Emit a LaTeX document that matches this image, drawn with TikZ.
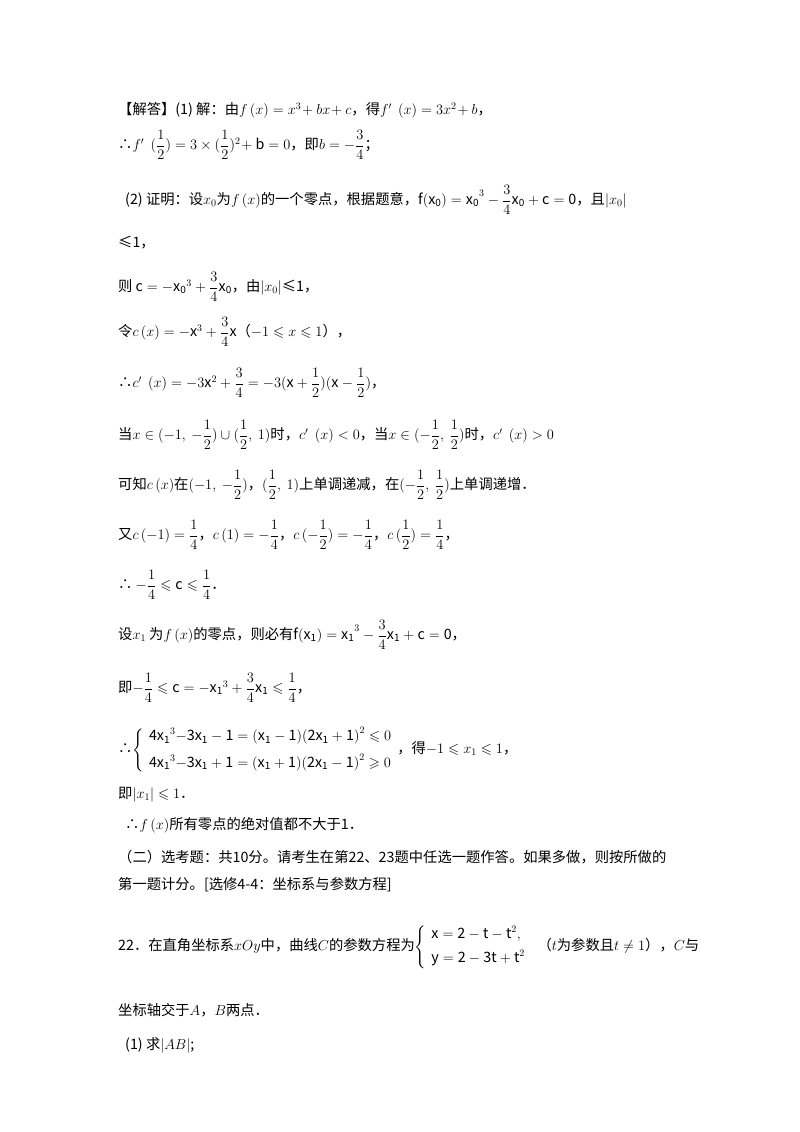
\documentclass[tikz,border=0pt]{standalone}
\usepackage{amsmath,amssymb}
\usepackage{fontspec}
\setmainfont{Noto Sans CJK SC}
\begin{document}
\begin{tikzpicture}[x=1pt,y=-1pt,
 ln/.style={anchor=west,inner sep=0pt,font=\fontsize{14.3}{17}\selectfont}]
\useasboundingbox[fill=white] (0,0) rectangle (800,1132);
\node[ln] (l1) at (118,110) {【解答】(1) 解：由$f\,(x)=x^3\!+bx\!+c$，得$f'\ \ (x)=3x^2\!+b$，};
\node[ln] (l2) at (118,145) {∴$f'\ \ (\dfrac12)=3\times(\dfrac12)^2\!+\mathrm{b}=0$，即$b=-\dfrac34$；};
\node[ln] (l3) at (125,200) {(2) 证明：设$x_0$为$f\,(x)$的一个零点，根据题意，$\mathrm{f(x_0)=x_0}^3-\dfrac34\mathrm{x_0+c=0}$，且$|x_0|$};
\node[ln] (l4) at (118,243) {≤1，};
\node[ln] (l5) at (118,287) {则 $\mathrm{c=-x_0}^3+\dfrac34\mathrm{x_0}$，由$|x_0|$≤1，};
\node[ln] (l6) at (118,332) {令$c\,(x)=-\mathrm{x}^3+\dfrac34\mathrm{x}$（$-1\leqslant x\leqslant1$），};
\node[ln] (l7) at (118,383) {∴$c'\ \ (x)=-3\mathrm{x}^2+\dfrac34=-3(\mathrm{x}+\dfrac12)(\mathrm{x}-\dfrac12)$，};
\node[ln] (l8) at (118,435) {当$x\in(-1,\ -\dfrac12)\cup(\dfrac12,\ 1)$时，$c'\ \ (x)<0$，当$x\in(-\dfrac12,\ \dfrac12)$时，$c'\ \ (x)>0$};
\node[ln] (l9) at (118,485) {可知$c\,(x)$在$(-1,\ -\dfrac12)$，$(\dfrac12,\ 1)$上单调递减，在$(-\dfrac12,\ \dfrac12)$上单调递增．};
\node[ln] (l10) at (118,535) {又$c\,(-1)=\dfrac14$，$c\,(1)=-\dfrac14$，$c\,(-\dfrac12)=-\dfrac14$，$c\,(\dfrac12)=\dfrac14$，};
\node[ln] (l11) at (118,585) {∴ $-\dfrac14\leqslant\mathrm{c}\leqslant\dfrac14$．};
\node[ln] (l12) at (118,635) {设$x_1$ 为$f\,(x)$的零点，则必有$\mathrm{f(x_1)=x_1}^3-\dfrac34\mathrm{x_1+c=0}$，};
\node[ln] (l13) at (118,688) {即$-\dfrac14\leqslant\mathrm{c=-x_1}^3+\dfrac34\mathrm{x_1}\leqslant\dfrac14$，};
\node[ln] (l14) at (118,750) {∴$\left\{\begin{array}{l}\mathrm{4x_1}^3\mathrm{-3x_1-1=(x_1-1)(2x_1+1)}^2\leqslant0\\[8pt] \mathrm{4x_1}^3\mathrm{-3x_1+1=(x_1+1)(2x_1-1)}^2\geqslant0\end{array}\right.$，得$-1\leqslant x_1\leqslant1$，};
\node[ln] (l15) at (118,795) {即$|x_1|\leqslant1$．};
\node[ln] (l16) at (125,825) {∴$f\,(x)$所有零点的绝对值都不大于1．};
\node[ln] (l17) at (118,857) {（二）选考题：共10分。请考生在第22、23题中任选一题作答。如果多做，则按所做的};
\node[ln] (l18) at (118,885) {第一题计分。[选修4-4：坐标系与参数方程]};
\node[ln] (l19) at (118,947) {22．在直角坐标系$xOy$中，曲线$C$的参数方程为$\left\{\begin{array}{l}\mathrm{x=2-t-t}^2,\\[6pt] \mathrm{y=2-3t+t}^2\end{array}\right.$\ \ （$t$为参数且$t\neq1$），$C$与};
\node[ln] (l20) at (118,1010) {坐标轴交于$A$，$B$两点．};
\node[ln] (l21) at (125,1045) {(1) 求$|AB|$;};
\end{tikzpicture}
\end{document}
